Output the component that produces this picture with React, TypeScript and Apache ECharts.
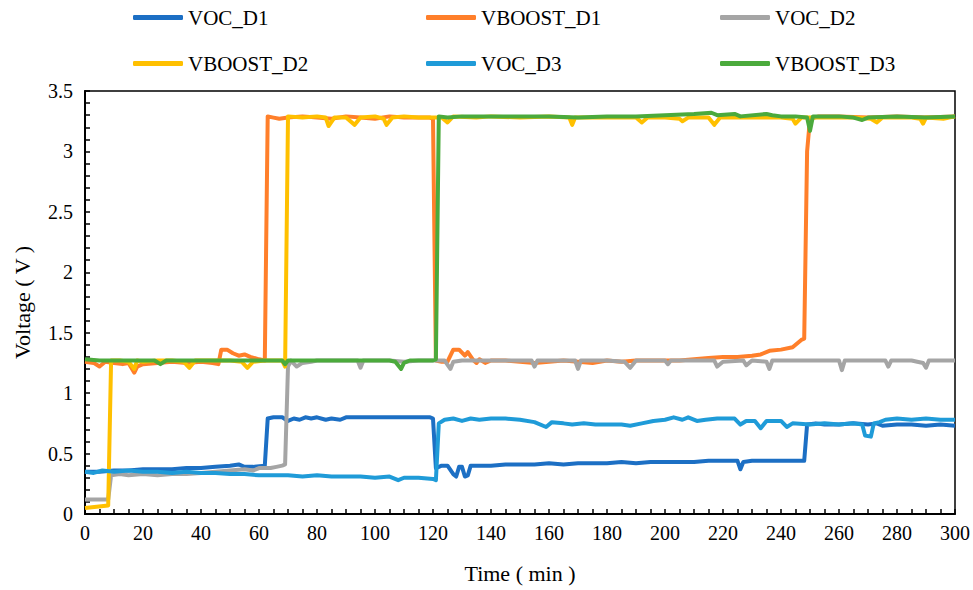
import React, { useEffect, useRef } from "react";
import * as echarts from "echarts";

const seriesNames = ["VOC_D1", "VBOOST_D1", "VOC_D2", "VBOOST_D2", "VOC_D3", "VBOOST_D3"];
const seriesColors = ["#1C6FC4", "#FF7F2A", "#A5A5A5", "#FFC000", "#1F9BD8", "#4BAA3C"];

const vocD1: [number, number][] = [
  [0, 0.35], [5, 0.35], [10, 0.36], [15, 0.36], [20, 0.37], [25, 0.37], [30, 0.37], [35, 0.38], [40, 0.38],
  [45, 0.39], [50, 0.4], [53, 0.41], [55, 0.39], [58, 0.39], [62, 0.4], [63, 0.79], [65, 0.8], [68, 0.8],
  [70, 0.77], [72, 0.79], [74, 0.78], [76, 0.8], [78, 0.79], [80, 0.8], [83, 0.78], [85, 0.79], [88, 0.78],
  [90, 0.8], [95, 0.8], [100, 0.8], [105, 0.8], [110, 0.8], [115, 0.8], [119, 0.8], [120, 0.79], [121, 0.38],
  [123, 0.4], [125, 0.4], [127, 0.33], [128, 0.31], [129, 0.39], [130, 0.39], [131, 0.31], [132, 0.32], [133, 0.4],
  [135, 0.4], [140, 0.4], [145, 0.41], [150, 0.41], [155, 0.41], [160, 0.42], [165, 0.41], [170, 0.42], [175, 0.42],
  [180, 0.42], [185, 0.43], [190, 0.42], [195, 0.43], [200, 0.43], [205, 0.43], [210, 0.43], [215, 0.44], [220, 0.44],
  [225, 0.44], [226, 0.37], [227, 0.43], [230, 0.44], [235, 0.44], [240, 0.44], [245, 0.44], [248, 0.44], [249, 0.74],
  [252, 0.75], [255, 0.74], [260, 0.74], [265, 0.75], [270, 0.74], [273, 0.75], [275, 0.73], [280, 0.74], [285, 0.74],
  [290, 0.73], [295, 0.74], [300, 0.73],
];

const vboostD1: [number, number][] = [
  [0, 1.26], [3, 1.25], [5, 1.22], [7, 1.26], [10, 1.25], [13, 1.24], [15, 1.25], [17, 1.17], [18, 1.22], [20, 1.24],
  [25, 1.25], [30, 1.26], [35, 1.25], [40, 1.26], [44, 1.25], [46, 1.24], [47, 1.36], [49, 1.36], [51, 1.33],
  [53, 1.31], [55, 1.32], [57, 1.3], [60, 1.28], [62, 1.27], [63, 3.29], [65, 3.28], [67, 3.27], [70, 3.28],
  [75, 3.29], [80, 3.28], [85, 3.27], [90, 3.29], [95, 3.28], [100, 3.27], [105, 3.29], [110, 3.28], [115, 3.28],
  [119, 3.28], [120, 3.27], [121, 1.27], [123, 1.26], [125, 1.26], [127, 1.36], [129, 1.36], [131, 1.31], [132, 1.34],
  [134, 1.27], [135, 1.25], [136, 1.28], [138, 1.25], [140, 1.27], [145, 1.27], [150, 1.26], [155, 1.25], [160, 1.26],
  [165, 1.27], [170, 1.26], [175, 1.25], [180, 1.27], [185, 1.26], [190, 1.27], [195, 1.27], [200, 1.27], [205, 1.27],
  [210, 1.28], [215, 1.29], [220, 1.3], [225, 1.3], [230, 1.31], [233, 1.32], [236, 1.35], [240, 1.36], [244, 1.38],
  [247, 1.44], [248, 1.45], [249, 3.0], [250, 3.27], [253, 3.29], [260, 3.29], [270, 3.28], [280, 3.29], [290, 3.28],
  [300, 3.29],
];

const vocD2: [number, number][] = [
  [0, 0.12], [8, 0.12], [9, 0.32], [12, 0.33], [15, 0.32], [20, 0.33], [25, 0.32], [30, 0.33], [35, 0.33], [40, 0.34],
  [45, 0.35], [50, 0.36], [55, 0.37], [58, 0.36], [60, 0.38], [62, 0.38], [64, 0.38], [66, 0.39], [68, 0.4], [69, 0.41],
  [70, 1.22], [71, 1.27], [73, 1.22], [75, 1.25], [78, 1.26], [80, 1.27], [85, 1.27], [90, 1.27], [94, 1.27], [95, 1.21],
  [96, 1.27], [100, 1.27], [105, 1.27], [110, 1.26], [115, 1.27], [120, 1.27], [124, 1.27], [126, 1.2], [127, 1.26],
  [130, 1.27], [135, 1.27], [140, 1.27], [145, 1.27], [150, 1.27], [154, 1.27], [155, 1.22], [156, 1.27], [165, 1.27],
  [169, 1.27], [170, 1.2], [171, 1.27], [180, 1.27], [186, 1.26], [188, 1.21], [190, 1.27], [200, 1.27], [201, 1.24],
  [202, 1.27], [210, 1.27], [217, 1.27], [218, 1.22], [220, 1.26], [227, 1.27], [228, 1.23], [230, 1.27], [235, 1.26],
  [236, 1.2], [237, 1.27], [245, 1.27], [250, 1.27], [255, 1.27], [260, 1.27], [261, 1.19], [262, 1.27], [270, 1.27],
  [276, 1.27], [277, 1.22], [278, 1.27], [285, 1.27], [289, 1.25], [290, 1.21], [291, 1.27], [300, 1.27],
];

const vboostD2: [number, number][] = [
  [0, 0.05], [4, 0.06], [8, 0.07], [9, 1.27], [12, 1.27], [15, 1.26], [17, 1.2], [18, 1.27], [20, 1.26], [25, 1.27],
  [30, 1.27], [34, 1.26], [36, 1.21], [38, 1.27], [45, 1.27], [50, 1.27], [54, 1.26], [56, 1.21], [58, 1.26],
  [62, 1.27], [66, 1.27], [68, 1.27], [69, 1.22], [70, 3.29], [75, 3.28], [80, 3.29], [83, 3.28], [84, 3.21],
  [86, 3.28], [90, 3.28], [93, 3.22], [95, 3.28], [100, 3.29], [103, 3.27], [104, 3.22], [106, 3.28], [110, 3.29],
  [115, 3.28], [120, 3.28], [123, 3.28], [125, 3.24], [127, 3.29], [135, 3.28], [140, 3.29], [150, 3.28], [160, 3.29],
  [167, 3.28], [168, 3.22], [169, 3.28], [180, 3.28], [190, 3.28], [192, 3.24], [194, 3.28], [200, 3.28], [205, 3.27],
  [206, 3.25], [208, 3.28], [215, 3.28], [217, 3.22], [219, 3.28], [230, 3.28], [240, 3.28], [244, 3.27], [245, 3.23],
  [247, 3.28], [255, 3.28], [265, 3.28], [271, 3.27], [273, 3.24], [275, 3.28], [285, 3.28], [288, 3.27], [289, 3.23],
  [290, 3.28], [296, 3.27], [300, 3.29],
];

const vocD3: [number, number][] = [
  [0, 0.35], [3, 0.34], [6, 0.36], [10, 0.35], [15, 0.36], [20, 0.35], [25, 0.35], [30, 0.34], [35, 0.35], [40, 0.34],
  [45, 0.34], [50, 0.33], [55, 0.33], [60, 0.32], [65, 0.32], [70, 0.32], [75, 0.31], [80, 0.32], [85, 0.31],
  [90, 0.31], [95, 0.31], [100, 0.3], [105, 0.31], [108, 0.28], [110, 0.3], [115, 0.3], [120, 0.29], [121, 0.28],
  [122, 0.75], [124, 0.78], [127, 0.79], [130, 0.77], [133, 0.79], [136, 0.78], [140, 0.79], [145, 0.79], [150, 0.78],
  [155, 0.76], [159, 0.72], [161, 0.76], [165, 0.75], [168, 0.74], [172, 0.75], [176, 0.74], [180, 0.74], [185, 0.74],
  [188, 0.73], [192, 0.75], [196, 0.77], [200, 0.78], [203, 0.8], [206, 0.78], [208, 0.8], [211, 0.77], [214, 0.78],
  [218, 0.79], [224, 0.79], [226, 0.74], [228, 0.77], [231, 0.77], [233, 0.71], [235, 0.77], [240, 0.77], [242, 0.72],
  [244, 0.75], [250, 0.74], [255, 0.75], [260, 0.74], [265, 0.75], [268, 0.74], [269, 0.65], [271, 0.64], [272, 0.75],
  [274, 0.76], [276, 0.78], [280, 0.79], [285, 0.78], [290, 0.79], [295, 0.78], [300, 0.78],
];

const vboostD3: [number, number][] = [
  [0, 1.28], [5, 1.27], [10, 1.27], [15, 1.27], [20, 1.27], [24, 1.27], [26, 1.24], [28, 1.27], [35, 1.27], [40, 1.27],
  [45, 1.27], [50, 1.27], [55, 1.27], [60, 1.27], [65, 1.27], [68, 1.27], [69, 1.24], [70, 1.27], [75, 1.27], [80, 1.27],
  [85, 1.27], [90, 1.27], [95, 1.27], [100, 1.27], [105, 1.27], [107, 1.26], [109, 1.2], [110, 1.25], [112, 1.27],
  [115, 1.27], [120, 1.27], [121, 1.28], [122, 3.29], [125, 3.28], [130, 3.29], [140, 3.29], [150, 3.29], [160, 3.29],
  [170, 3.28], [180, 3.29], [190, 3.29], [200, 3.3], [210, 3.31], [216, 3.32], [218, 3.3], [224, 3.31], [226, 3.29],
  [235, 3.31], [237, 3.3], [240, 3.29], [245, 3.29], [249, 3.28], [250, 3.17], [251, 3.29], [255, 3.29], [260, 3.29],
  [265, 3.28], [268, 3.26], [270, 3.28], [280, 3.29], [290, 3.28], [300, 3.29],
];

const seriesData = [vocD1, vboostD1, vocD2, vboostD2, vocD3, vboostD3];

const xMin = 0;
const xMax = 300;
const xInterval = 20;
const yMin = 0;
const yMax = 3.5;
const yInterval = 0.5;

const FONT = "Liberation Serif";

const legendPos = [
  { left: 133, top: 7 },
  { left: 426, top: 7 },
  { left: 720, top: 7 },
  { left: 133, top: 53 },
  { left: 426, top: 53 },
  { left: 720, top: 53 },
];

export default function App() {
  const ref = useRef<HTMLDivElement>(null);
  useEffect(() => {
    if (!ref.current) return;
    const chart = echarts.init(ref.current, undefined, { renderer: "svg" });
    const axisCommon = {
      axisLine: { show: true, onZero: false, lineStyle: { color: "#000", width: 2 } },
      axisTick: { show: true, inside: true, length: 5, lineStyle: { color: "#000", width: 1.5 } },
      minorTick: { show: true, length: 5, lineStyle: { color: "#000", width: 1.5 } },
      splitLine: { show: false },
      minorSplitLine: { show: false },
      axisLabel: { color: "#000", fontSize: 20, fontFamily: FONT },
      nameTextStyle: { color: "#000", fontSize: 22, fontFamily: FONT },
    };
    chart.setOption({
      animation: false,
      backgroundColor: "#fff",
      textStyle: { fontFamily: FONT },
      legend: seriesNames.map((n, i) => ({
        data: [n],
        left: legendPos[i].left,
        top: legendPos[i].top,
        padding: 0,
        icon: "roundRect",
        itemWidth: 50,
        itemHeight: 5,
        textStyle: { color: "#000", fontSize: 21, fontFamily: FONT },
        selectedMode: false,
      })),
      grid: {
        left: 85,
        right: 16,
        top: 91,
        bottom: 76,
        show: true,
        borderColor: "#000",
        borderWidth: 1.5,
        containLabel: false,
      },
      xAxis: {
        type: "value",
        min: xMin,
        max: xMax,
        interval: xInterval,
        name: "Time ( min )",
        nameLocation: "middle",
        nameGap: 48,
        ...axisCommon,
        minorTick: { ...axisCommon.minorTick, splitNumber: 4 },
        axisLabel: { ...axisCommon.axisLabel, margin: 9 },
      },
      yAxis: {
        type: "value",
        min: yMin,
        max: yMax,
        interval: yInterval,
        name: "Voltage ( V )",
        nameLocation: "middle",
        nameGap: 52,
        ...axisCommon,
        minorTick: { ...axisCommon.minorTick, splitNumber: 5 },
        axisLabel: { ...axisCommon.axisLabel, margin: 12 },
      },
      series: seriesNames.map((n, i) => ({
        name: n,
        type: "line",
        data: seriesData[i],
        showSymbol: false,
        symbol: "none",
        color: seriesColors[i],
        lineStyle: { width: 4, color: seriesColors[i], join: "round" },
      })),
    });
    return () => chart.dispose();
  }, []);
  return <div ref={ref} style={{ position: "fixed", left: 0, top: 0, width: 973, height: 590 }} />;
}
